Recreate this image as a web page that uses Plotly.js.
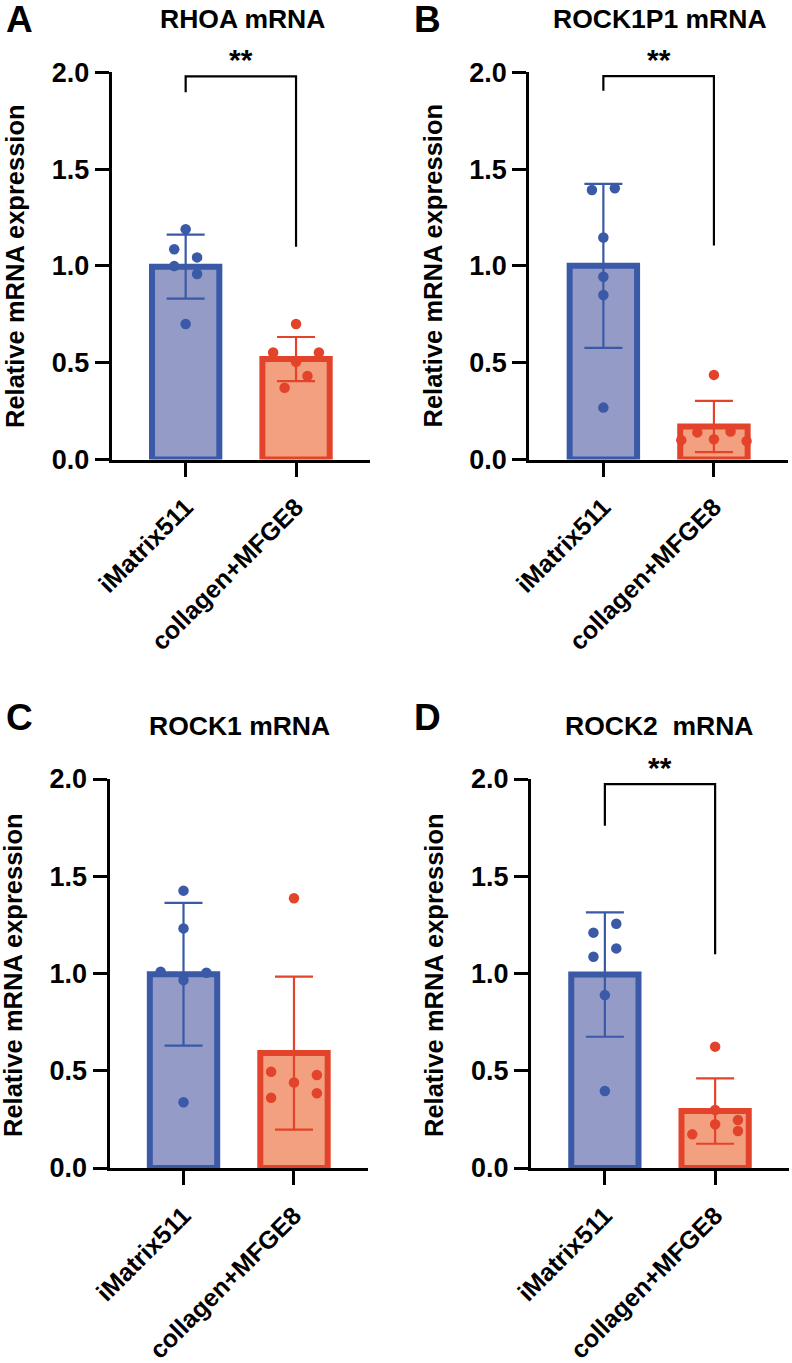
<!DOCTYPE html>
<html>
<head>
<meta charset="utf-8">
<script src="https://cdn.plot.ly/plotly-3.0.1.min.js"></script>
<style>html,body{margin:0;padding:0;background:#fff;}#chart{width:792px;height:1363px;}</style>
</head>
<body>
<div id="chart"></div>
<script>
// ---------- data ----------
const categories = ["iMatrix511", "collagen+MFGE8"];
const panelTitles = ["RHOA mRNA", "ROCK1P1 mRNA", "ROCK1 mRNA", "ROCK2  mRNA"];
const panelLetters = ["A", "B", "C", "D"];
const yTicks = [0, 0.5, 1.0, 1.5, 2.0];

// individual replicate values (relative expression)
const rhoaIMatrix   = [1.189, 1.086, 1.044, 0.999, 0.958, 0.700];
const rhoaCollagen  = [0.700, 0.553, 0.553, 0.505, 0.431, 0.371];
const rock1p1IMatrix  = [1.392, 1.401, 1.147, 0.944, 0.850, 0.268];
const rock1p1Collagen = [0.437, 0.140, 0.145, 0.105, 0.100, 0.095];
const rock1IMatrix  = [1.426, 1.232, 1.009, 1.004, 0.967, 0.338];
const rock1Collagen = [1.387, 0.495, 0.478, 0.440, 0.361, 0.384];
const rock2IMatrix  = [1.210, 1.256, 1.129, 1.086, 0.889, 0.396];
const rock2Collagen = [0.624, 0.298, 0.225, 0.247, 0.190, 0.173];

// significance labels and bracket heights (top, left foot, right foot)
const sigLabels = ["**", "**", "", "**"];
const bracketTop   = [1.979, 1.980, null, 1.974];
const bracketLeft  = [1.897, 1.905, null, 1.760];
const bracketRight = [1.099, 1.105, null, 1.099];

// ---------- styling / layout ----------
const dotCols = [
  [[0,-1,1,-1,1,0], [0,-2,2,0,1,-1]],
  [[-1,1,0,0,0,0], [0,-1.45,1.45,0,-2.85,2.85]],
  [[0,0,-2,2,0,0], [0,-2,2,0,-2,2]],
  [[-1,1,1,-1,0,0], [0,0,0,2,2,-2]]
];
const colUnit = 0.1036;
const FONT = "Liberation Sans, Arial, Helvetica, sans-serif";
const blueLine = "#3A59A6", blueFill = "#939BC6";
const redLine = "#E4432B", redFill = "#F2A07F";
const W = 792, H = 1363;
const YMAX = 2;

const panels = [
  {vals: [rhoaIMatrix, rhoaCollagen], xd: [111.7, 370], yd: [72.3, 459.5],
   title: [242, 19], letter: [19, 20], ylab: [15, 266]},
  {vals: [rock1p1IMatrix, rock1p1Collagen], xd: [529.3, 788], yd: [72.3, 459.5],
   title: [660, 19], letter: [427, 20], ylab: [432.5, 266]},
  {vals: [rock1IMatrix, rock1Collagen], xd: [109.5, 368], yd: [779, 1168],
   title: [239.5, 726], letter: [19, 717], ylab: [13, 975]},
  {vals: [rock2IMatrix, rock2Collagen], xd: [531, 789], yd: [779, 1168],
   title: [659.3, 726], letter: [427, 717], ylab: [434, 975]}
];

function mean(a){ return a.reduce((s,v)=>s+v,0)/a.length; }
function sd(a){ const m = mean(a); return Math.sqrt(a.reduce((s,v)=>s+(v-m)*(v-m),0)/(a.length-1)); }

const traces = [];
const layout = {
  width: W, height: H,
  margin: {l:0, r:0, t:0, b:0},
  paper_bgcolor: "#fff", plot_bgcolor: "rgba(0,0,0,0)",
  showlegend: false,
  barmode: "overlay",
  annotations: [],
  shapes: []
};

panels.forEach((p, i) => {
  const n = i + 1;
  const xa = "x" + (n === 1 ? "" : n), ya = "y" + (n === 1 ? "" : n);
  const xk = "xaxis" + (n === 1 ? "" : n), yk = "yaxis" + (n === 1 ? "" : n);
  const colors = [[blueLine, blueFill], [redLine, redFill]];
  p.vals.forEach((vals, g) => {
    traces.push({
      type: "bar", x: [g], y: [mean(vals)], width: 0.61,
      xaxis: xa, yaxis: ya,
      marker: {color: colors[g][1], line: {color: colors[g][0], width: 6}},
      error_y: {type: "data", array: [sd(vals)], visible: true, color: colors[g][0], thickness: 2.2, width: 19},
      hoverinfo: "skip"
    });
  });
  p.vals.forEach((vals, g) => {
    traces.push({
      type: "scatter", mode: "markers",
      x: vals.map((v, k) => g + dotCols[i][g][k] * colUnit), y: vals,
      xaxis: xa, yaxis: ya, cliponaxis: false,
      marker: {color: colors[g][0], size: 10.5, line: {width: 0}},
      hoverinfo: "skip"
    });
  });
  layout[xk] = {
    domain: [p.xd[0] / W, p.xd[1] / W], anchor: ya,
    range: [-0.67, 1.67], fixedrange: true,
    tickvals: [0, 1], ticktext: categories, tickangle: -45,
    ticks: "outside", ticklen: 14, tickwidth: 3, tickcolor: "#000",
    ticklabelstandoff: 6,
    showline: true, linewidth: 3, linecolor: "#000",
    showgrid: false, zeroline: false,
    tickfont: {family: FONT, size: 25, color: "#000", weight: "bold"}
  };
  layout[yk] = {
    domain: [1 - p.yd[1] / H, 1 - p.yd[0] / H], anchor: xa,
    range: [0, YMAX], fixedrange: true,
    tickvals: yTicks, tickformat: ".1f",
    ticks: "outside", ticklen: 14, tickwidth: 3, tickcolor: "#000",
    showline: true, linewidth: 3, linecolor: "#000",
    showgrid: false, zeroline: false,
    tickfont: {family: FONT, size: 27, color: "#000", weight: "bold"}
  };
  // titles, letters, y labels
  layout.annotations.push({
    text: panelTitles[i], xref: "paper", yref: "paper",
    x: p.title[0] / W, y: 1 - p.title[1] / H, xanchor: "center", yanchor: "middle",
    showarrow: false, font: {family: FONT, size: 26.5, color: "#000", weight: "bold"}
  });
  layout.annotations.push({
    text: panelLetters[i], xref: "paper", yref: "paper",
    x: p.letter[0] / W, y: 1 - p.letter[1] / H, xanchor: "center", yanchor: "middle",
    showarrow: false, font: {family: FONT, size: 37, color: "#000", weight: "bold"}
  });
  layout.annotations.push({
    text: "Relative mRNA expression", xref: "paper", yref: "paper", textangle: -90,
    x: p.ylab[0] / W, y: 1 - p.ylab[1] / H, xanchor: "center", yanchor: "middle",
    showarrow: false, font: {family: FONT, size: 25.5, color: "#000", weight: "bold"}
  });
  if (sigLabels[i]) {
    layout.shapes.push({
      type: "path", xref: xa, yref: ya,
      path: "M0," + bracketLeft[i] + " L0," + bracketTop[i] + " L1," + bracketTop[i] + " L1," + bracketRight[i],
      line: {color: "#000", width: 2.2}
    });
    layout.annotations.push({
      text: sigLabels[i], xref: xa, yref: ya + " domain", x: 0.5, y: (bracketTop[i] + 0.085) / YMAX,
      xanchor: "center", yanchor: "middle", showarrow: false,
      font: {family: FONT, size: 30, color: "#000", weight: "bold"}
    });
  }
});

Plotly.newPlot("chart", traces, layout, {staticPlot: true, displayModeBar: false});
</script>
</body>
</html>
